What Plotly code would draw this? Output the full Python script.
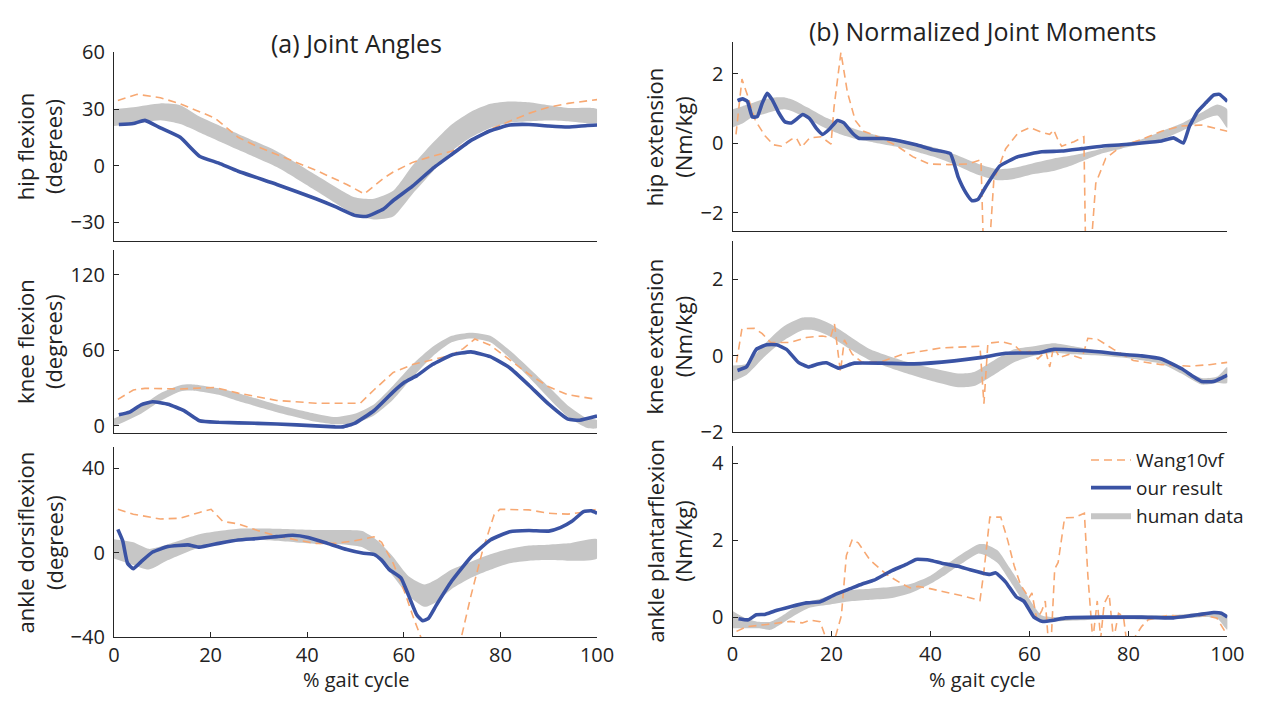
import plotly.graph_objects as go

# ---------------- data ----------------
# (a) hip flexion (degrees)
hipA_x_ours = [1, 4, 6.4, 9.6, 13.7, 17.7, 21.7, 25.7, 33.7, 41.8, 45.8, 49.8, 52.2, 55.8, 57.8, 61.8, 65.9, 69.9, 73.9, 77.9, 81.9, 85.9, 90, 94, 98, 100]
hipA_ours = [21.8, 22.3, 24, 20, 15, 5, 1.3, -3, -10, -17.6, -21.8, -26.4, -27, -23, -18.5, -10.9, -1.7, 5.9, 13.4, 18.5, 21.5, 21.8, 21, 20.5, 21.3, 21.5]
hipA_x_wang = [0.8, 4.8, 9.6, 13.7, 17.7, 20.9, 25.7, 29.7, 33.7, 41.8, 48.2, 51.8, 55.8, 57.8, 61.8, 65.9, 69.9, 73.9, 77.9, 81.9, 85.9, 90, 94, 100]
hipA_wang = [34.5, 37.8, 36, 32.8, 28.6, 25.2, 15, 10, 5.9, -2.5, -10, -15, -6.7, -3.4, 1.7, 5, 7.6, 13.4, 19.3, 23.5, 27.7, 31, 33, 35]
hipA_x_hum = [0, 4, 9.6, 13.7, 17.7, 25.7, 33.7, 41.8, 49.8, 53.8, 57.8, 61.8, 65.9, 69.9, 73.9, 77.9, 81.9, 85.9, 90, 94, 100]
hipA_hum_hi = [30, 31, 33, 32, 26, 16.8, 7.6, -5, -16.8, -17.6, -13.4, 0, 11.8, 21.8, 28.6, 32.8, 34, 33.6, 32, 30.6, 30]
hipA_hum_lo = [21, 22, 24, 22, 17.6, 8.4, -0.8, -13.4, -26, -28.6, -27, -15, -3.4, 7.6, 15, 20, 22.7, 23.5, 23.9, 23.5, 22.7]

# (a) knee flexion (degrees)
kneeA_x_ours = [1, 3.2, 5.6, 8, 11.2, 14.5, 17.7, 21.7, 29.7, 37.8, 45.8, 47.4, 49.8, 53.8, 57.8, 60.2, 62.7, 65.9, 69.9, 73.9, 77.9, 81.9, 85.9, 90, 94, 96.4, 100]
kneeA_ours = [8.8, 10.9, 16.7, 19.2, 17.2, 12.1, 4, 2.8, 2, 0.8, -0.8, -0.8, 2, 12, 27, 34.8, 39.9, 48.7, 56.3, 58.8, 55, 46.2, 32.3, 17.2, 5.3, 4.5, 7.8]
kneeA_x_wang = [0.8, 4, 6.4, 13.7, 20.9, 25.7, 33.7, 41.8, 51, 53.8, 57.8, 61.8, 65.9, 69.9, 72.3, 74.7, 77.9, 81.9, 85.9, 90, 94, 100]
kneeA_wang = [21, 28.5, 29.8, 29.3, 30.5, 26, 20.2, 18, 18, 28.5, 42.4, 48.7, 52.5, 56.3, 61.4, 69, 64, 52.5, 41, 31, 24.7, 21]
kneeA_x_hum = [0, 5.6, 9.6, 13.7, 15.5, 17.7, 21.7, 25.7, 33.7, 41.8, 45.8, 49.8, 53.8, 57.8, 61.8, 65.9, 69.9, 73.9, 77.9, 81.9, 85.9, 90, 94, 98, 100]
kneeA_hum_hi = [5.8, 16, 26, 32.3, 33, 32.3, 29.8, 26, 17, 9.6, 7, 9.6, 17, 32, 48.7, 62.6, 71.5, 74, 71.5, 60, 46, 31, 16, 5.8, 4.5]
kneeA_hum_lo = [-0.5, 9.6, 19.7, 27.3, 28, 27.3, 24.7, 19.7, 10.9, 3.3, 1.3, 2, 8.3, 21, 38.6, 55, 66.4, 69.4, 66.4, 53.8, 38.6, 22, 7, -1.8, -1.8]

# (a) ankle dorsiflexion (degrees)
ankA_x_ours = [0.8, 1.8, 2.8, 4, 5.6, 8, 11.2, 15.3, 17.7, 21.7, 25.7, 29.7, 33.7, 37, 40.2, 44.2, 48.2, 51.4, 53.8, 55.4, 57, 59.4, 61, 62.7, 63.9, 65.1, 66.7, 69.9, 73.9, 77.9, 81.9, 85.9, 90, 92.4, 94.8, 97.2, 98.8, 100]
ankA_ours = [11, 5.6, -5, -7.6, -4.3, 0.3, 2.9, 3.7, 2.6, 4.4, 6, 6.7, 7.6, 8.2, 7.2, 4.4, 1.5, -0.2, -0.8, -3.5, -8, -11.9, -20.3, -29.5, -32.2, -31, -24.9, -13.4, -2, 6, 9.9, 10.5, 10.2, 11.8, 14.8, 19.4, 19.8, 18.6]
ankA_x_wang = [0.8, 4, 9.6, 13.7, 17.7, 20.1, 22.5, 25.7, 29.7, 33.7, 37.8, 41.8, 45.8, 49.8, 53.8, 55.4, 57.8, 60.2, 61.8, 63.5, 66, 70, 71.9, 73.9, 76.3, 78.7, 79.9, 85.9, 90, 94, 98, 100]
ankA_wang = [20.5, 18.2, 15.9, 16.3, 19, 20.5, 14.8, 13.6, 10.5, 7.9, 6, 4.4, 4.4, 5.6, 7.5, 4.9, -5, -18.8, -29.5, -40, -55, -55, -40, -20.3, 1, 17.9, 20.5, 20.2, 18.6, 18.2, 19.4, 20.5]
ankA_x_hum = [0, 4, 7.2, 11.2, 17.7, 21.7, 25.7, 33.7, 41.8, 48.2, 51.4, 54.6, 57.8, 61, 64.3, 66.7, 69.9, 73.9, 77.9, 81.9, 85.9, 90, 94, 100]
ankA_hum_hi = [6.4, 4.9, 1.8, 4, 8.7, 10.2, 11.3, 11.3, 10.7, 10.7, 10.2, 5.6, -2, -11.1, -15, -12.7, -8, -4.3, -0.8, 1.8, 3.4, 3.8, 4.4, 6.4]
ankA_hum_lo = [-2.7, -5.8, -8, -3.5, 2.6, 4.9, 6.4, 5.6, 4.1, 3.8, 2.6, -2, -11.1, -20.3, -25.6, -23.4, -17.2, -11.9, -8.1, -5, -3.8, -3.5, -3.8, -2.7]

# (b) hip extension moment (Nm/kg)
hipM_x_ours = [1, 2, 3, 4, 5, 6, 7, 8, 9.3, 10.6, 11.9, 14.2, 15.6, 16.9, 18.2, 19.5, 21.2, 22.5, 24.2, 25.5, 27.2, 30.5, 33.8, 37.1, 40.4, 44, 45.6, 47.2, 48.4, 49.6, 51.2, 54, 57.7, 62.5, 66.5, 70.6, 74.6, 78.6, 82.7, 86.7, 89.1, 91.1, 92.3, 94, 95.6, 97.2, 98.4, 100]
hipM_ours = [1.22, 1.27, 1.2, 0.75, 0.76, 1.15, 1.43, 1.25, 0.88, 0.61, 0.58, 0.82, 0.7, 0.43, 0.25, 0.39, 0.65, 0.58, 0.29, 0.14, 0.13, 0.13, 0.06, -0.05, -0.19, -0.3, -0.98, -1.44, -1.66, -1.62, -1.25, -0.66, -0.39, -0.25, -0.23, -0.16, -0.09, -0.05, 0, 0.06, 0.15, 0, 0.47, 0.91, 1.15, 1.38, 1.4, 1.2]
hipM_x_wang = [0.7, 1.9, 3, 4.6, 6.6, 8.3, 9.9, 11.9, 12.9, 13.9, 15.6, 17.9, 19.9, 20.5, 21.9, 23.2, 24.8, 26.5, 29.1, 33.1, 36.4, 39.7, 43.7, 47.7, 50.2, 50.8, 51.5, 52.1, 52.8, 55.2, 57.7, 60.1, 62.5, 64.1, 64.9, 65.7, 66.5, 69, 71, 71.4, 72.2, 73.4, 75.4, 78.6, 82.7, 86.7, 90.7, 94.8, 100]
hipM_wang = [0.25, 1.84, 1.38, 0.65, 0.2, -0.05, -0.09, 0.11, 0.15, -0.12, 0.15, 0.18, -0.03, 1.02, 2.61, 1.47, 0.65, 0.34, 0.2, -0.07, -0.39, -0.6, -0.62, -0.6, -0.48, -3.5, -3.5, -2.6, -1.07, -0.16, 0.29, 0.45, 0.31, 0.25, 0.38, 0.11, -0.09, 0.04, 0.18, -3.5, -3.5, -1.16, -0.44, -0.09, 0.11, 0.34, 0.49, 0.52, 0.34]
hipM_x_hum = [0, 2, 4, 6, 8.6, 10.6, 12.6, 15.2, 18.5, 21.9, 25.2, 28.5, 31.8, 35.1, 38.4, 41.7, 45, 49.7, 53.6, 56.9, 60.9, 64.9, 68.9, 74.6, 78.6, 82.7, 86.7, 90.7, 94.8, 98, 100]
hipM_hum_hi = [0.97, 1.06, 1.15, 1.25, 1.31, 1.31, 1.22, 1.02, 0.76, 0.56, 0.38, 0.25, 0.15, 0.06, -0.05, -0.16, -0.33, -0.6, -0.75, -0.71, -0.57, -0.44, -0.35, -0.16, -0.03, 0.11, 0.34, 0.56, 0.88, 1.11, 0.97]
hipM_hum_lo = [0.45, 0.56, 0.75, 0.82, 0.93, 0.97, 0.88, 0.7, 0.45, 0.25, 0.11, 0.02, -0.07, -0.16, -0.3, -0.44, -0.62, -0.92, -1.07, -1.03, -0.89, -0.8, -0.62, -0.3, -0.16, -0.03, 0.11, 0.34, 0.65, 0.79, 0.43]

# (b) knee extension moment (Nm/kg)
kneeM_x_ours = [1, 2.8, 4.8, 6.9, 8.9, 10.9, 13.3, 15.3, 17.3, 19, 21.4, 24.6, 30.2, 36.7, 44.8, 50.4, 55.2, 61.7, 64.9, 70.6, 74.6, 78.6, 82.7, 86.7, 90.7, 93.1, 94.8, 97.2, 98.8, 100]
kneeM_ours = [-0.38, -0.29, 0.17, 0.29, 0.29, 0.17, -0.17, -0.29, -0.21, -0.18, -0.32, -0.19, -0.19, -0.21, -0.13, -0.04, 0.07, 0.08, 0.17, 0.14, 0.1, 0.04, 0, -0.08, -0.33, -0.54, -0.67, -0.67, -0.58, -0.5]
kneeM_x_wang = [0.8, 1.9, 4.4, 6, 7.7, 11.7, 14.9, 18.1, 19.8, 20.6, 21.8, 22.6, 24.2, 26.2, 30.2, 34.3, 42.3, 50, 50.8, 51.6, 54.4, 56.9, 58.5, 60.1, 61.7, 63.3, 64.1, 64.9, 66.1, 68.1, 70.6, 71.8, 73.8, 77, 81, 86.7, 92.5, 96.4, 100]
kneeM_wang = [-0.17, 0.71, 0.72, 0.58, 0.35, 0.35, 0.48, 0.52, 0.48, 0.83, -0.42, 0.42, 0.04, -0.17, -0.15, 0.04, 0.21, 0.25, -1.25, 0.33, 0.37, 0.29, 0.08, 0.12, -0.08, 0.12, -0.29, 0.25, -0.04, 0.04, -0.07, 0.46, 0.43, 0.17, -0.12, -0.23, -0.27, -0.23, -0.17]
kneeM_x_hum = [0, 2.8, 6, 10.1, 14.1, 16.5, 19.8, 23.8, 27.8, 34.3, 40.7, 45.6, 48.8, 52.8, 56.9, 60.9, 64.9, 68.9, 74.6, 81, 86.7, 90.7, 94.8, 98, 100]
kneeM_hum_hi = [-0.25, -0.21, 0.25, 0.75, 1.0, 1.0, 0.83, 0.5, 0.17, -0.12, -0.33, -0.46, -0.42, -0.12, 0.17, 0.25, 0.33, 0.25, 0.12, 0.04, -0.08, -0.33, -0.58, -0.54, -0.29]
kneeM_hum_lo = [-0.67, -0.5, -0.08, 0.38, 0.67, 0.67, 0.5, 0.17, -0.12, -0.42, -0.67, -0.82, -0.79, -0.5, -0.17, 0, 0.08, 0.04, 0, -0.08, -0.21, -0.46, -0.75, -0.71, -0.71]

# (b) ankle plantarflexion moment (Nm/kg)
ankM_x_ours = [1.2, 3.2, 4.8, 6.5, 8.5, 11.7, 14.9, 17.7, 20.6, 23.8, 26.2, 28.6, 31.9, 35.1, 37.1, 39.9, 42.3, 45.6, 48, 50.4, 52, 53.2, 55.2, 57.3, 58.9, 60.9, 62.5, 64.9, 67.3, 74.6, 82.7, 89.1, 94, 97.2, 98.8, 100]
ankM_ours = [-0.04, -0.07, 0.06, 0.07, 0.16, 0.27, 0.37, 0.4, 0.58, 0.74, 0.86, 0.96, 1.19, 1.37, 1.5, 1.48, 1.4, 1.32, 1.23, 1.15, 1.11, 1.15, 0.91, 0.53, 0.41, 0, -0.11, -0.08, -0.02, 0, 0, -0.02, 0.06, 0.12, 0.1, 0]
ankM_x_wang = [0.8, 2.8, 6.9, 11.7, 14.1, 15.7, 17.7, 19, 20.6, 22, 23, 24.2, 25.4, 27.8, 31.1, 34.3, 35.9, 37.5, 39.9, 43.9, 47.2, 50, 50.8, 52, 54.2, 55.6, 56.9, 58.2, 59.9, 60.5, 61.5, 62.5, 63.2, 63.8, 64.4, 65.1, 65.8, 67.1, 69.1, 71.1, 71.8, 72.8, 73.7, 74.4, 75.1, 76.1, 77, 78, 79, 79.6, 80.9, 82.7, 84, 88, 91.3, 95.2, 97.9, 99.5, 100]
ankM_wang = [-0.37, -0.25, -0.19, -0.11, -0.15, -0.08, -0.12, -0.6, -0.6, 0.04, 1.6, 2.02, 1.93, 1.48, 1.11, 0.86, 0.76, 0.8, 0.74, 0.63, 0.53, 0.43, 1.19, 2.6, 2.6, 2.0, 1.34, 0.84, 0.5, 0.63, -0.07, 0.17, 0.42, -0.6, -0.6, 1.25, 1.42, 2.58, 2.59, 2.7, 1.09, -0.6, 0.42, -0.55, 0.35, 0.6, -0.6, 0.1, 0.01, -0.6, -0.6, -0.24, -0.07, 0.05, 0.01, 0.05, -0.03, -0.37, -0.4]
ankM_x_hum = [0, 2.8, 5.2, 7.7, 10.1, 12.5, 15.7, 19.8, 23.8, 27.8, 31.9, 35.9, 39.9, 43.1, 46.4, 49.6, 51.2, 53.6, 56, 58.5, 60.9, 62.5, 64.9, 74.6, 82.7, 90.7, 95.6, 98, 100]
ankM_hum_hi = [0.16, -0.04, -0.12, -0.12, 0.04, 0.25, 0.41, 0.55, 0.7, 0.74, 0.78, 0.86, 1.07, 1.36, 1.65, 1.89, 1.89, 1.73, 1.28, 0.78, 0.29, 0.04, 0, 0.04, 0.04, 0.07, 0.12, 0.12, 0.04]
ankM_hum_lo = [-0.29, -0.29, -0.29, -0.33, -0.16, 0.04, 0.25, 0.33, 0.41, 0.45, 0.49, 0.62, 0.86, 1.11, 1.4, 1.65, 1.6, 1.4, 0.95, 0.45, 0, -0.12, -0.11, -0.06, -0.06, -0.04, 0, -0.04, -0.33]

series_names = ["Wang10vf", "our result", "human data"]
y_titles = ["hip flexion<br>(degrees)", "knee flexion<br>(degrees)", "ankle dorsiflexion<br>(degrees)",
            "hip extension<br>(Nm/kg)", "knee extension<br>(Nm/kg)", "ankle plantarflexion<br>(Nm/kg)"]
panel_titles = ["(a) Joint Angles", "(b) Normalized Joint Moments"]
x_title = "% gait cycle"
x_ticks = [0, 20, 40, 60, 80, 100]
y_ticks = [[-30, 0, 30, 60], [0, 60, 120], [-40, 0, 40], [-2, 0, 2], [-2, 0, 2], [0, 2, 4]]

panels = [
    (hipA_x_hum, hipA_hum_hi, hipA_hum_lo, hipA_x_wang, hipA_wang, hipA_x_ours, hipA_ours),
    (kneeA_x_hum, kneeA_hum_hi, kneeA_hum_lo, kneeA_x_wang, kneeA_wang, kneeA_x_ours, kneeA_ours),
    (ankA_x_hum, ankA_hum_hi, ankA_hum_lo, ankA_x_wang, ankA_wang, ankA_x_ours, ankA_ours),
    (hipM_x_hum, hipM_hum_hi, hipM_hum_lo, hipM_x_wang, hipM_wang, hipM_x_ours, hipM_ours),
    (kneeM_x_hum, kneeM_hum_hi, kneeM_hum_lo, kneeM_x_wang, kneeM_wang, kneeM_x_ours, kneeM_ours),
    (ankM_x_hum, ankM_hum_hi, ankM_hum_lo, ankM_x_wang, ankM_wang, ankM_x_ours, ankM_ours),
]

# ---------------- layout geometry (pixels in 1265x709) ----------------
W, H = 1265, 709
FONT = "Open Sans, Noto Sans, sans-serif"
C_ORANGE = "#F7A872"
C_BLUE = "#3A53A4"
C_GRAY = "#C6C6C6"
AX = "#262626"

col_px = [(110, 602), (740, 1244)]
row_px = [[(40, 236), (245, 436), (450, 648)], [(29, 226), (236, 435), (449, 647)]]
y_ranges = [[-40, 60], [-6, 140], [-40, 50], [-2.54, 2.91], [-2, 3], [-0.5, 4.45]]

fig = go.Figure()
layout = dict(width=W, height=H, margin=dict(l=0, r=0, t=0, b=0),
              paper_bgcolor="white", plot_bgcolor="white",
              font=dict(family=FONT, color="#222", size=20),
              showlegend=True)
annotations = []

for i, (hx, hhi, hlo, wx, wy, ox, oy) in enumerate(panels):
    col, row = divmod(i, 3)
    n = i + 1
    xa = "x" if n == 1 else f"x{n}"
    ya = "y" if n == 1 else f"y{n}"
    xkey = "xaxis" if n == 1 else f"xaxis{n}"
    ykey = "yaxis" if n == 1 else f"yaxis{n}"
    x0, x1 = col_px[col]
    top, bot = row_px[col][row]
    legend_on = (i == 5)
    # human data band
    fig.add_trace(go.Scatter(x=list(hx) + list(hx)[::-1], y=list(hhi) + list(hlo)[::-1],
                             fill="toself", fillcolor=C_GRAY, line=dict(width=0, color=C_GRAY, shape="spline", smoothing=0.6),
                             mode="lines", name=series_names[2], showlegend=legend_on,
                             legendrank=3, hoverinfo="skip", xaxis=xa, yaxis=ya))
    fig.add_trace(go.Scatter(x=wx, y=wy, mode="lines", line=dict(color=C_ORANGE, width=1.6, dash="8px,5px"),
                             name=series_names[0], showlegend=legend_on, legendrank=1,
                             xaxis=xa, yaxis=ya))
    fig.add_trace(go.Scatter(x=ox, y=oy, mode="lines", line=dict(color=C_BLUE, width=3.6, shape="spline", smoothing=0.4),
                             name=series_names[1], showlegend=legend_on, legendrank=2,
                             xaxis=xa, yaxis=ya))
    is_bottom = (row == 2)
    layout[xkey] = dict(domain=[x0 / W, x1 / W], range=[0, 100], anchor=ya,
                        showline=True, linecolor=AX, linewidth=1.2, showgrid=False, zeroline=False,
                        ticks="inside" if is_bottom else "", ticklen=5, tickcolor=AX,
                        tickvals=x_ticks, showticklabels=is_bottom, tickfont=dict(size=20))
    layout[ykey] = dict(domain=[1 - bot / H, 1 - top / H], range=y_ranges[i], anchor=xa,
                        showline=True, linecolor=AX, linewidth=1.2, showgrid=False, zeroline=False,
                        ticks="inside", ticklen=5, tickcolor=AX, tickvals=y_ticks[i],
                        tickfont=dict(size=20), ticklabelstandoff=4)
    # y title
    tx = 34 if col == 0 else 675
    annotations.append(dict(text=y_titles[i], x=tx / W, y=1 - (top + bot) / 2 / H, xref="paper", yref="paper",
                            showarrow=False, textangle=-90, font=dict(size=22), xanchor="center", yanchor="middle"))

annotations.append(dict(text=panel_titles[0], x=357 / W, y=1 - 30 / H, xref="paper", yref="paper",
                        showarrow=False, font=dict(size=25), xanchor="center", yanchor="middle"))
annotations.append(dict(text=panel_titles[1], x=995 / W, y=1 - 18 / H, xref="paper", yref="paper",
                        showarrow=False, font=dict(size=25), xanchor="center", yanchor="middle"))
for cx in (357, 995):
    annotations.append(dict(text=x_title, x=cx / W, y=1 - 692 / H, xref="paper", yref="paper",
                            showarrow=False, font=dict(size=20), xanchor="center", yanchor="middle"))

layout["annotations"] = annotations
layout["legend"] = dict(x=1100 / W, y=1 - 444 / H, xanchor="left", yanchor="top",
                        bgcolor="rgba(0,0,0,0)", font=dict(size=19), tracegroupgap=0,
                        itemwidth=40)
fig.update_layout(**layout)
fig.write_html("out.html")
